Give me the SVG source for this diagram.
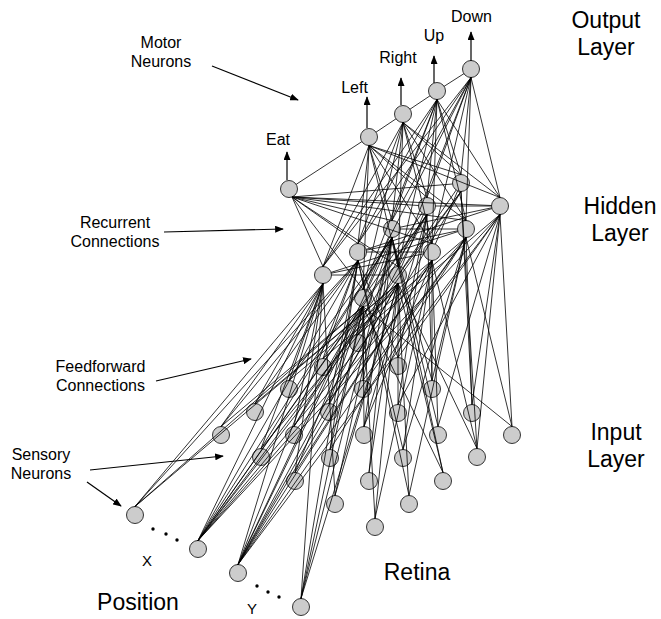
<svg xmlns="http://www.w3.org/2000/svg" width="661" height="619" viewBox="0 0 661 619">
<style>
.n{fill:#cccccc;stroke:#333333;stroke-width:1}
.c{stroke:#000;stroke-width:0.8;fill:none}
.a{stroke:#000;stroke-width:1.2;fill:none}
text{font-family:"Liberation Sans",Arial,sans-serif;fill:#000}
.s{font-size:16px}
.b{font-size:23px}
.m{text-anchor:middle}
</style>
<defs>
<marker id="ah" viewBox="0 0 10 8" refX="9" refY="4" markerWidth="9" markerHeight="7" markerUnits="userSpaceOnUse" orient="auto"><path d="M0,0L10,4L0,8z" fill="#000"/></marker>
</defs>
<rect width="661" height="619" fill="#fff"/>
<!-- nodes: output -->
<g id="out-eat"><circle class="n" cx="289" cy="189" r="8.5"/></g>
<g id="out-left"><circle class="n" cx="369" cy="137" r="8.5"/></g>
<g id="out-right"><circle class="n" cx="403" cy="114" r="8.5"/></g>
<g id="out-up"><circle class="n" cx="437" cy="91" r="8.5"/></g>
<g id="out-down"><circle class="n" cx="471" cy="69" r="8.5"/></g>
<!-- hidden -->
<g id="h-a0"><circle class="n" cx="323" cy="275" r="8.5"/></g>
<g id="h-a1"><circle class="n" cx="358" cy="252" r="8.5"/></g>
<g id="h-a2"><circle class="n" cx="392" cy="229" r="8.5"/></g>
<g id="h-a3"><circle class="n" cx="427" cy="206" r="8.5"/></g>
<g id="h-a4"><circle class="n" cx="461" cy="183" r="8.5"/></g>
<g id="h-b0"><circle class="n" cx="363" cy="298" r="8.5"/></g>
<g id="h-b1"><circle class="n" cx="398" cy="275" r="8.5"/></g>
<g id="h-b2"><circle class="n" cx="432" cy="252" r="8.5"/></g>
<g id="h-b3"><circle class="n" cx="466" cy="229" r="8.5"/></g>
<g id="h-b4"><circle class="n" cx="500" cy="206" r="8.5"/></g>
<!-- retina -->
<g id="r00"><circle class="n" cx="221" cy="435" r="8.5"/></g>
<g id="r01"><circle class="n" cx="261" cy="457" r="8.5"/></g>
<g id="r02"><circle class="n" cx="295" cy="481" r="8.5"/></g>
<g id="r03"><circle class="n" cx="335" cy="504" r="8.5"/></g>
<g id="r04"><circle class="n" cx="375" cy="527" r="8.5"/></g>
<g id="r10"><circle class="n" cx="255" cy="412" r="8.5"/></g>
<g id="r11"><circle class="n" cx="294" cy="435" r="8.5"/></g>
<g id="r12"><circle class="n" cx="330" cy="458" r="8.5"/></g>
<g id="r13"><circle class="n" cx="369" cy="481" r="8.5"/></g>
<g id="r14"><circle class="n" cx="409" cy="504" r="8.5"/></g>
<g id="r20"><circle class="n" cx="289" cy="389" r="8.5"/></g>
<g id="r21"><circle class="n" cx="329" cy="412" r="8.5"/></g>
<g id="r22"><circle class="n" cx="364" cy="435" r="8.5"/></g>
<g id="r23"><circle class="n" cx="403" cy="458" r="8.5"/></g>
<g id="r24"><circle class="n" cx="443" cy="481" r="8.5"/></g>
<g id="r30"><circle class="n" cx="323" cy="367" r="8.5"/></g>
<g id="r31"><circle class="n" cx="363" cy="389" r="8.5"/></g>
<g id="r32"><circle class="n" cx="398" cy="413" r="8.5"/></g>
<g id="r33"><circle class="n" cx="438" cy="435" r="8.5"/></g>
<g id="r34"><circle class="n" cx="477" cy="457" r="8.5"/></g>
<g id="r40"><circle class="n" cx="358" cy="343" r="8.5"/></g>
<g id="r41"><circle class="n" cx="398" cy="366" r="8.5"/></g>
<g id="r42"><circle class="n" cx="432" cy="389" r="8.5"/></g>
<g id="r43"><circle class="n" cx="472" cy="413" r="8.5"/></g>
<g id="r44"><circle class="n" cx="512" cy="435" r="8.5"/></g>
<!-- position -->
<g id="px1"><circle class="n" cx="135" cy="515" r="8.5"/></g>
<g id="px2"><circle class="n" cx="198" cy="549" r="8.5"/></g>
<g id="py1"><circle class="n" cx="238" cy="573" r="8.5"/></g>
<g id="py2"><circle class="n" cx="301" cy="607" r="8.5"/></g>
<!-- connectors -->
<g id="connectors">
<path class="c" d="M292,197L323,266.5M292,197L358,243.5M292,197L392,220.5M292,197L418.5,205.5M292,197L452.5,184M292,197L363,289.5M292,197L398,266.5M292,197L432,243.5M292,197L466,220.5M292,197L491.5,205.5"/>
<path class="c" d="M369,145.5L323,266.5M369,145.5L358,243.5M369,145.5L392,220.5M369,145.5L427,197.5M369,145.5L461,174.5M369,145.5L363,289.5M369,145.5L398,266.5M369,145.5L432,243.5M369,145.5L466,220.5M369,145.5L500,197.5"/>
<path class="c" d="M403,122.5L323,266.5M403,122.5L358,243.5M403,122.5L392,220.5M403,122.5L427,197.5M403,122.5L461,174.5M403,122.5L363,289.5M403,122.5L398,266.5M403,122.5L432,243.5M403,122.5L466,220.5M403,122.5L500,197.5"/>
<path class="c" d="M437,99.5L323,266.5M437,99.5L358,243.5M437,99.5L392,220.5M437,99.5L427,197.5M437,99.5L461,174.5M437,99.5L363,289.5M437,99.5L398,266.5M437,99.5L432,243.5M437,99.5L466,220.5M437,99.5L500,197.5"/>
<path class="c" d="M471,77.5L323,266.5M471,77.5L358,243.5M471,77.5L392,220.5M471,77.5L427,197.5M471,77.5L461,174.5M471,77.5L363,289.5M471,77.5L398,266.5M471,77.5L432,243.5M471,77.5L466,220.5M471,77.5L500,197.5"/>
<path class="c" d="M296.1,184.4L361.9,141.6M376,132.2L396,118.8M410,109.2L430,95.8M444,86.4L464,73.6"/>
<path class="c" d="M331.5,275L389.5,275M366.5,252L423.5,252M400.5,229L457.5,229M435.5,206L491.5,206M331.3,273.2L423.7,253.8M366.3,250.2L457.7,230.8M400.3,227.2L491.7,207.8M366.3,290.2L388.7,236.8M401.3,267.2L423.7,213.8M435.3,244.2L457.7,190.8M331.1,272.4L457.9,231.6M366.1,249.4L491.9,208.6M367.9,291L422.1,213M402.8,268L456.2,190"/>
<path class="c" d="M323,283.5L221,426.5M323,283.5L261,448.5M323,283.5L295,472.5M323,283.5L335,495.5M323,283.5L255,403.5M323,283.5L294,426.5M323,283.5L289,380.5M323,283.5L135,506.5M323,283.5L198,540.5M323,283.5L238,564.5M323,283.5L301,598.5"/>
<path class="c" d="M358,260.5L221,426.5M358,260.5L255,403.5M358,260.5L330,449.5M358,260.5L409,495.5M358,260.5L329,403.5M358,260.5L403,449.5M358,260.5L323,358.5M358,260.5L398,357.5M358,260.5L135,506.5M358,260.5L198,540.5M358,260.5L238,564.5M358,260.5L301,598.5"/>
<path class="c" d="M392,237.5L261,448.5M392,237.5L335,495.5M392,237.5L369,472.5M392,237.5L289,380.5M392,237.5L364,426.5M392,237.5L443,472.5M392,237.5L363,380.5M392,237.5L438,426.5M392,237.5L358,334.5M392,237.5L432,380.5M392,237.5L198,540.5M392,237.5L238,564.5M392,237.5L301,598.5"/>
<path class="c" d="M427,214.5L294,426.5M427,214.5L323,358.5M427,214.5L398,404.5M427,214.5L398,357.5M427,214.5L432,380.5M427,214.5L364,426.5M427,214.5L198,540.5M427,214.5L238,564.5"/>
<path class="c" d="M461,191.5L358,334.5M461,191.5L472,404.5M461,191.5L477,448.5M461,191.5L198,540.5M461,191.5L238,564.5"/>
<path class="c" d="M363,306.5L221,426.5M363,306.5L295,472.5M363,306.5L375,518.5M363,306.5L294,426.5M363,306.5L330,449.5M363,306.5L329,403.5M363,306.5L364,426.5M363,306.5L443,472.5M363,306.5L363,380.5M363,306.5L512,426.5M363,306.5L135,506.5M363,306.5L198,540.5M363,306.5L238,564.5M363,306.5L301,598.5"/>
<path class="c" d="M398,283.5L261,448.5M398,283.5L335,495.5M398,283.5L375,518.5M398,283.5L255,403.5M398,283.5L369,472.5M398,283.5L409,495.5M398,283.5L329,403.5M398,283.5L443,472.5M398,283.5L398,404.5M398,283.5L477,448.5M398,283.5L135,506.5M398,283.5L198,540.5M398,283.5L238,564.5M398,283.5L301,598.5"/>
<path class="c" d="M432,260.5L295,472.5M432,260.5L375,518.5M432,260.5L289,380.5M432,260.5L364,426.5M432,260.5L403,449.5M432,260.5L438,426.5M432,260.5L477,448.5M432,260.5L432,380.5M432,260.5L198,540.5M432,260.5L238,564.5"/>
<path class="c" d="M466,237.5L330,449.5M466,237.5L409,495.5M466,237.5L403,449.5M466,237.5L323,358.5M466,237.5L363,380.5M466,237.5L432,380.5M466,237.5L472,404.5M466,237.5L512,426.5M466,237.5L198,540.5M466,237.5L238,564.5"/>
<path class="c" d="M500,214.5L398,404.5M500,214.5L438,426.5M500,214.5L477,448.5M500,214.5L358,334.5M500,214.5L398,357.5M500,214.5L472,404.5M500,214.5L512,426.5M500,214.5L198,540.5M500,214.5L238,564.5"/>
</g>
<!-- output arrows -->
<g id="out-arrows">
<line class="a" x1="287" y1="180" x2="287" y2="152" marker-end="url(#ah)"/>
<line class="a" x1="367" y1="128" x2="367" y2="97" marker-end="url(#ah)"/>
<line class="a" x1="401" y1="105" x2="401" y2="78" marker-end="url(#ah)"/>
<line class="a" x1="434" y1="83" x2="434" y2="56" marker-end="url(#ah)"/>
<line class="a" x1="471" y1="61" x2="471" y2="32" marker-end="url(#ah)"/>
</g>
<!-- annotation arrows -->
<g id="annotations">
<line class="a" x1="212" y1="66" x2="298" y2="100" marker-end="url(#ah)"/>
<line class="a" x1="164" y1="232" x2="283" y2="229" marker-end="url(#ah)"/>
<line class="a" x1="156" y1="381" x2="251" y2="359" marker-end="url(#ah)"/>
<line class="a" x1="90" y1="470" x2="223" y2="456" marker-end="url(#ah)"/>
<line class="a" x1="87" y1="482" x2="121" y2="506" marker-end="url(#ah)"/>
</g>
<!-- dots -->
<g id="dots" fill="#000">
<circle cx="153" cy="529" r="1.7"/><circle cx="166" cy="534" r="1.7"/><circle cx="177" cy="540" r="1.7"/>
<circle cx="257" cy="586" r="1.7"/><circle cx="268" cy="592" r="1.7"/><circle cx="279" cy="597" r="1.7"/>
</g>
<!-- labels -->
<g id="labels">
<text class="s m" x="278" y="145">Eat</text>
<text class="s m" x="354.5" y="93">Left</text>
<text class="s m" x="398" y="63">Right</text>
<text class="s m" x="434" y="41">Up</text>
<text class="s m" x="471.5" y="22">Down</text>
<text class="s m" x="161" y="48">Motor</text>
<text class="s m" x="161" y="67">Neurons</text>
<text class="s m" x="115" y="228">Recurrent</text>
<text class="s m" x="115" y="247">Connections</text>
<text class="s m" x="100.5" y="372">Feedforward</text>
<text class="s m" x="100.5" y="391">Connections</text>
<text class="s m" x="41" y="460">Sensory</text>
<text class="s m" x="41" y="479">Neurons</text>
<text class="m" x="147" y="566" font-size="15">X</text>
<text class="m" x="252" y="614" font-size="15">Y</text>
<text class="b m" x="138" y="610">Position</text>
<text class="b m" x="417" y="580">Retina</text>
<text class="b m" x="606" y="28">Output</text>
<text class="b m" x="606" y="55">Layer</text>
<text class="b m" x="620" y="214">Hidden</text>
<text class="b m" x="620" y="241">Layer</text>
<text class="b m" x="616" y="440">Input</text>
<text class="b m" x="616" y="467">Layer</text>
</g>
</svg>
